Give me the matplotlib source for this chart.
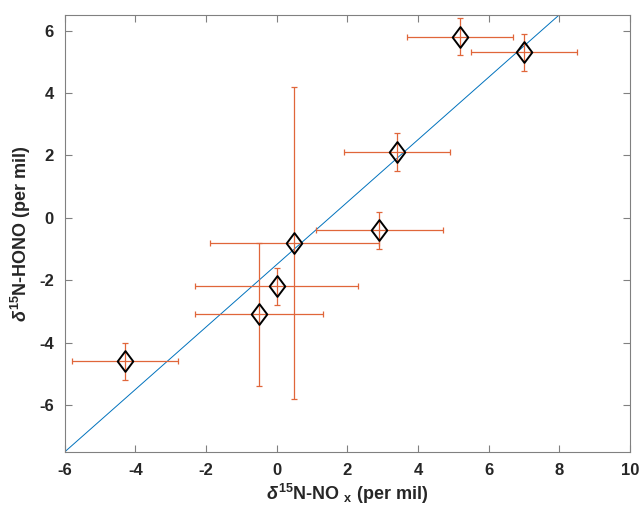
import matplotlib
matplotlib.use("Agg")
import matplotlib.pyplot as plt
import numpy as np
from matplotlib.path import Path

# d15N values (per mil)
nox = [-4.3, -0.5, 0.0, 0.5, 2.9, 3.4, 5.2, 7.0]
hono = [-4.6, -3.1, -2.2, -0.8, -0.4, 2.1, 5.8, 5.3]
nox_err = [1.5, 1.8, 2.3, 2.4, 1.8, 1.5, 1.5, 1.5]
hono_err = [0.6, 2.3, 0.6, 5.0, 0.6, 0.6, 0.6, 0.6]

# fitted 1:1 line (offset)
line_x = [-6, 8]
line_offset = -1.5

plt.rcParams['font.family'] = ['Liberation Sans', 'DejaVu Sans']
plt.rcParams['axes.unicode_minus'] = False
plt.rcParams['mathtext.fontset'] = 'custom'
plt.rcParams['mathtext.rm'] = 'Liberation Sans:bold'
plt.rcParams['mathtext.it'] = 'Liberation Sans:bold:italic'
plt.rcParams['mathtext.bf'] = 'Liberation Sans:bold'

fig = plt.figure(figsize=(6.42, 5.14), dpi=100)
ax = fig.add_axes([0.101, 0.121, 0.880, 0.850])

lx = np.array(line_x)
ax.plot(lx, lx + line_offset, color='#0072BD', lw=0.7, zorder=1)

ax.errorbar(nox, hono, xerr=nox_err, yerr=hono_err, fmt='none',
            ecolor='#E0663A', elinewidth=0.9, capsize=2.5, capthick=0.9,
            zorder=2)

diamond = Path([(0, 1), (0.75, 0), (0, -1), (-0.75, 0), (0, 1)],
               [Path.MOVETO, Path.LINETO, Path.LINETO, Path.LINETO,
                Path.CLOSEPOLY])
ax.plot(nox, hono, linestyle='none', marker=diamond, markersize=15,
        markerfacecolor='none', markeredgecolor='black',
        markeredgewidth=1.4, zorder=3)

ax.set_xlim(-6, 10)
ax.set_ylim(-7.5, 6.5)
ax.set_xticks(np.arange(-6, 11, 2))
ax.set_yticks(np.arange(-6, 7, 2))

for s in ax.spines.values():
    s.set_color('#808080')
    s.set_linewidth(0.8)
ax.tick_params(direction='in', top=True, right=True, length=5,
               width=0.8, color='#808080', labelsize=12,
               labelcolor='#262626', pad=8)
for lab in ax.get_xticklabels() + ax.get_yticklabels():
    lab.set_fontweight('bold')

ax.set_xlabel(r'$\delta^{15}$N-NO $_{\mathrm{x}}$ (per mil)', fontsize=13,
              fontweight='bold', color='#262626', labelpad=3)
ax.set_ylabel(r'$\delta^{15}$N-HONO (per mil)', fontsize=13,
              fontweight='bold', color='#262626', labelpad=4)

fig.savefig('out.png', dpi=100)
